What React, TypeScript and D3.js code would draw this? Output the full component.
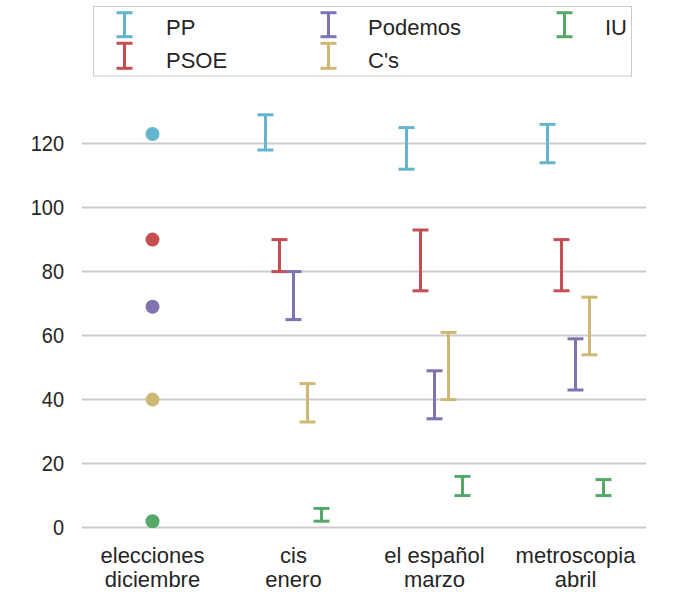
import React from "react";
import * as d3 from "d3";

const parties = ["PP", "PSOE", "Podemos", "C's", "IU"];
const colors = ["#64B5CD", "#C44E52", "#8172B2", "#CCB974", "#55A868"];
const categories = ["elecciones\ndiciembre", "cis\nenero", "el español\nmarzo", "metroscopia\nabril"];
const electionSeats = [123, 90, 69, 40, 2];
const pollCategories = ["cis\nenero", "el español\nmarzo", "metroscopia\nabril"];
const lowPP = [118, 112, 114];
const highPP = [129, 125, 126];
const lowPSOE = [80, 74, 74];
const highPSOE = [90, 93, 90];
const lowPodemos = [65, 34, 43];
const highPodemos = [80, 49, 59];
const lowCs = [33, 40, 54];
const highCs = [45, 61, 72];
const lowIU = [2, 10, 10];
const highIU = [6, 16, 15];
const yTicks = [0, 20, 40, 60, 80, 100, 120];

const lows = [lowPP, lowPSOE, lowPodemos, lowCs, lowIU];
const highs = [highPP, highPSOE, highPodemos, highCs, highIU];

const W = 680, H = 600;
const FONT = "'Liberation Sans', Arial, sans-serif";
const TEXT = "#262626";

export default function App() {
  const x = d3.scaleBand<string>().domain(categories).range([82, 646]).padding(0);
  const y = d3.scaleLinear().domain([0, 120]).range([527.6, 143.6]);
  const cx = (c: string) => (x(c) as number) + x.bandwidth() / 2;
  const dodge = d3.scaleLinear().domain([0, 4]).range([-28, 28]);
  const cap = 8;

  const legendCols = [
    { hx: 124.5, tx: 166 },
    { hx: 328.5, tx: 368 },
    { hx: 564.5, tx: 605 },
  ];
  const legendRows = [
    { c: 24.7, h: 12, base: 35 },
    { c: 55.8, h: 12.5, base: 67.5 },
  ];

  return (
    <svg width={W} height={H} style={{ position: "absolute", left: 0, top: 0, background: "#fff" }} fontFamily={FONT}>
      <rect x={0} y={0} width={W} height={H} fill="#fff" />
      {yTicks.map((t) => (
        <g key={t}>
          <line x1={82} x2={646} y1={y(t)} y2={y(t)} stroke="#cccccc" strokeWidth={2} />
          <g transform={`translate(64,${y(t) + 7.4}) scale(1,1.08)`}>
            <text x={0} y={0} textAnchor="end" fontSize={20} fill={TEXT}>
              {t}
            </text>
          </g>
        </g>
      ))}
      {categories.map((c) => (
        <text key={c} x={cx(c)} y={562.5} textAnchor="middle" fontSize={22} fill={TEXT}>
          {c.split("\n").map((l, i) => (
            <tspan key={i} x={cx(c)} dy={i === 0 ? 0 : 24}>
              {l}
            </tspan>
          ))}
        </text>
      ))}
      {electionSeats.map((v, i) => (
        <circle key={i} cx={cx(categories[0])} cy={y(v)} r={7} fill={colors[i]} />
      ))}
      {parties.map((p, i) =>
        pollCategories.map((c, j) => {
          const px = cx(c) + dodge(i);
          const y1 = y(lows[i][j]);
          const y2 = y(highs[i][j]);
          return (
            <g key={p + c} stroke={colors[i]} strokeWidth={3}>
              <line x1={px} x2={px} y1={y1} y2={y2} />
              <line x1={px - cap} x2={px + cap} y1={y1} y2={y1} />
              <line x1={px - cap} x2={px + cap} y1={y2} y2={y2} />
            </g>
          );
        })
      )}
      <rect x={93.5} y={6.5} width={538} height={69.5} fill="#fff" stroke="#cccccc" strokeWidth={1} />
      {parties.map((p, i) => {
        const col = legendCols[Math.floor(i / 2)];
        const r = legendRows[i % 2];
        return (
          <g key={p}>
            <g stroke={colors[i]} strokeWidth={3}>
              <line x1={col.hx} x2={col.hx} y1={r.c - r.h} y2={r.c + r.h} />
              <line x1={col.hx - 8} x2={col.hx + 8} y1={r.c - r.h} y2={r.c - r.h} />
              <line x1={col.hx - 8} x2={col.hx + 8} y1={r.c + r.h} y2={r.c + r.h} />
            </g>
            <text x={col.tx} y={r.base} fontSize={22} fill={TEXT}>
              {p}
            </text>
          </g>
        );
      })}
    </svg>
  );
}
